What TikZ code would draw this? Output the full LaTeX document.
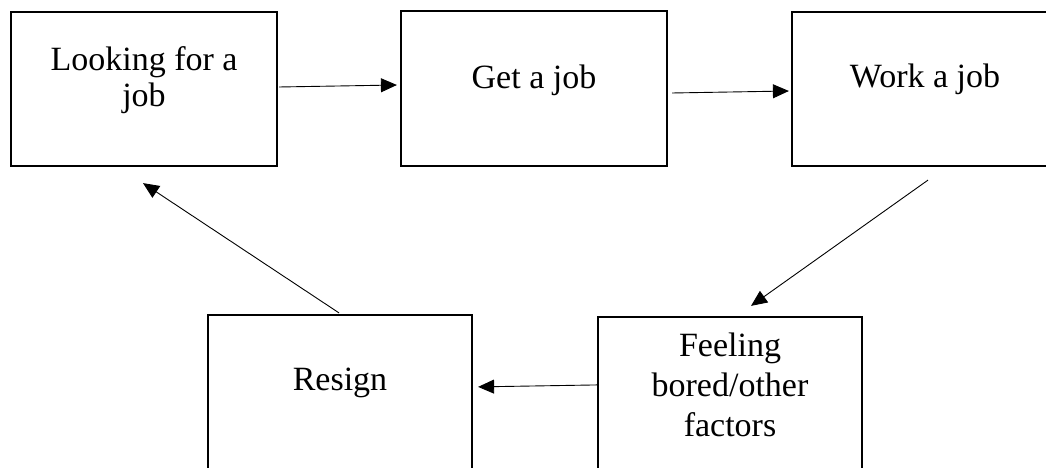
\documentclass[tikz,border=0pt]{standalone}
\usepackage{fontspec}
\setmainfont{Liberation Serif}
\usetikzlibrary{arrows.meta}
\begin{document}
\begin{tikzpicture}[x=1pt,y=1pt,
  boxnode/.style={draw=black, line width=2.2pt, rectangle, minimum width=266pt, inner sep=0pt},
  label1/.style={anchor=base, align=center, inner sep=0pt, font=\fontsize{34}{36}\selectfont},
  label2/.style={anchor=base, align=center, inner sep=0pt, font=\fontsize{34}{40}\selectfont},
  arr/.style={draw=black, line width=0.9pt, -{Triangle[length=16pt,width=14pt]}}]
\useasboundingbox (0,0) rectangle (1046,468);
\clip (0,0) rectangle (1046,468);
% boxes
\node[boxnode, minimum height=154pt] (b1) at (144,379) {};
\node[boxnode, minimum height=155pt] (b2) at (534,379.5) {};
\node[boxnode, minimum height=154pt] (b3) at (925,379) {};
\node[boxnode, minimum width=264pt, minimum height=200pt] (b4) at (340,53) {};
\node[boxnode, minimum width=264pt, minimum height=200pt] (b5) at (730,51) {};
% texts (base anchor = baseline of the last line)
\node[label1] (t1) at ([yshift=-96pt]b1.north) {Looking for a\\job};
\node[label1] (t2) at ([yshift=-79pt]b2.north) {Get a job};
\node[label1] (t3) at ([yshift=-77pt]b3.north) {Work a job};
\node[label1] (t4) at ([yshift=-77pt]b4.north) {Resign};
\node[label2] (t5) at ([yshift=-121pt]b5.north) {Feeling\\bored/other\\factors};
% connectors
\draw[arr] ([shift={(1,2)}]b1.east) -- ([shift={(-3,3.5)}]b2.west);
\draw[arr] ([shift={(4,-4.5)}]b2.east) -- ([shift={(-2,-2)}]b3.west);
\draw[arr] ([shift={(3,-13)}]b3.south) -- ([shift={(21,10)}]b5.north);
\draw[arr] ([shift={(2,-69)}]b5.north west) -- ([shift={(5,-73)}]b4.north east);
\draw[arr] ([shift={(-1,1)}]b4.north) -- ([shift={(-1,-16)}]b1.south);
\end{tikzpicture}
\end{document}
